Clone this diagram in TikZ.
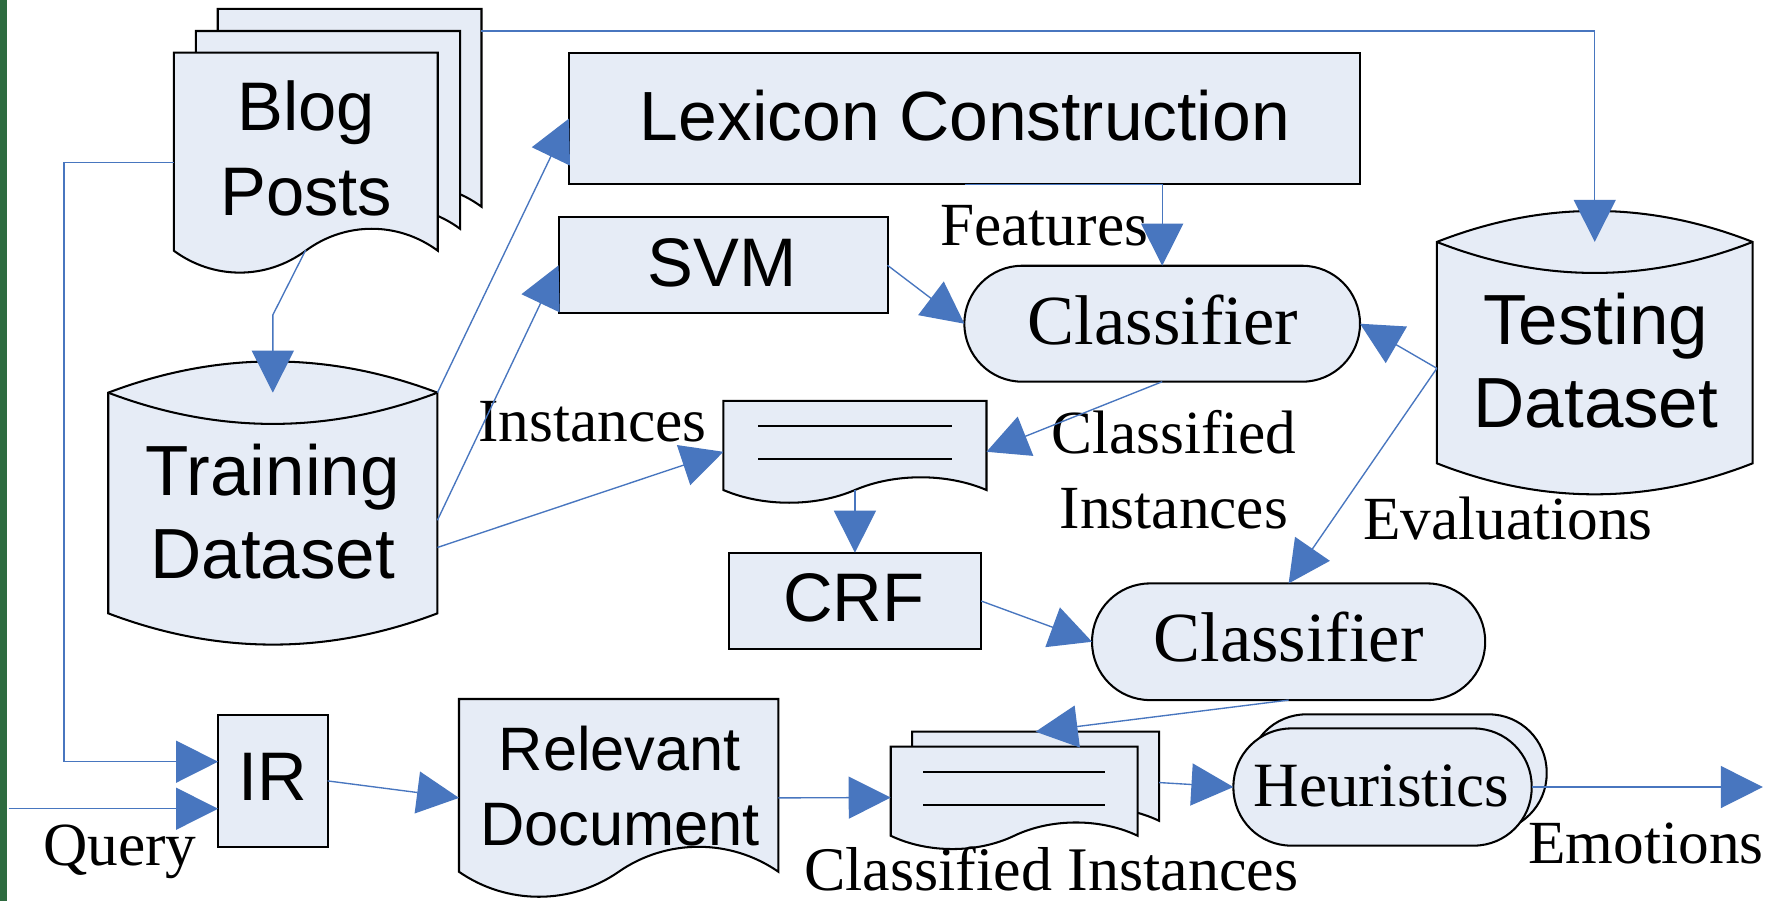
\documentclass[tikz,border=0pt]{standalone}
\usepackage{fontspec}
\setmainfont{Liberation Serif}
\setsansfont{Liberation Sans}
\usetikzlibrary{arrows.meta,calc}

\definecolor{shapefill}{RGB}{230,236,246}
\definecolor{linkblue}{RGB}{72,118,191}
\definecolor{edgegreen}{RGB}{46,107,63}

\tikzset{
  shp/.style={draw=black, fill=shapefill, line width=1.8pt, line join=miter},
  rimline/.style={draw=black, line width=1.8pt},
  box/.style={shp, rectangle, inner sep=0pt, outer sep=0pt},
  pill/.style={box, rounded corners=51pt},
  hook/.style={rectangle, draw=none, inner sep=0pt, outer sep=0pt},
  link/.style={draw=linkblue, line width=1.2pt, -{Triangle[length=37pt,width=37pt]}},
  sanstext/.style={font=\sffamily\fontsize{60.5}{60.5}\selectfont, inner sep=0pt, outer sep=0pt, anchor=base},
  bigsans/.style={sanstext, font=\sffamily\fontsize{62.5}{62.5}\selectfont},
  serftext/.style={font=\rmfamily\fontsize{54}{54}\selectfont, inner sep=0pt, outer sep=0pt, anchor=base west},
}

% page with a wavy lower edge: left, top, right, rim y, wave height
\newcommand\drawdoc[5]{%
  \pgfmathsetmacro\shW{#3-#1}%
  \pgfmathsetmacro\shM{(#1+#3)/2}%
  \pgfmathsetmacro\shA{#3-0.15*\shW}%
  \pgfmathsetmacro\shB{#3-0.35*\shW}%
  \pgfmathsetmacro\shC{#1+0.35*\shW}%
  \pgfmathsetmacro\shD{#1+0.15*\shW}%
  \pgfmathsetmacro\shU{#4-1.333*#5}%
  \pgfmathsetmacro\shL{#4+1.333*#5}%
  \path[shp] (#1,#2) -- (#3,#2) -- (#3,#4)
    .. controls (\shA,\shU) and (\shB,\shU) .. (\shM,#4)
    .. controls (\shC,\shL) and (\shD,\shL) .. (#1,#4) -- cycle;
}

% data store drum: left, right, upper rim y, lower rim y, rim bulge
\newcommand\drawdrum[5]{%
  \pgfmathsetmacro\shW{#2-#1}%
  \pgfmathsetmacro\shA{#1+\shW/3}%
  \pgfmathsetmacro\shB{#2-\shW/3}%
  \pgfmathsetmacro\shU{#3-1.333*#5}%
  \pgfmathsetmacro\shL{#3+1.333*#5}%
  \pgfmathsetmacro\shD{#4+1.333*#5}%
  \path[shp] (#1,#3) .. controls (\shA,\shU) and (\shB,\shU) .. (#2,#3)
    -- (#2,#4) .. controls (\shB,\shD) and (\shA,\shD) .. (#1,#4) -- cycle;
  \draw[rimline] (#1,#3) .. controls (\shA,\shL) and (\shB,\shL) .. (#2,#3);
}

\begin{document}
\begin{tikzpicture}[x=1pt, y=-1pt]
\useasboundingbox (0,0) rectangle (1568,793);
\fill[white] (0,0) rectangle (1568,793);
\fill[edgegreen] (0,0) rectangle (6,793);

% ---------- shapes ----------
% blog posts: three stacked pages
\drawdoc{191.7}{7.9}{423.9}{182}{19.3}
\drawdoc{172.5}{27.3}{405}{201.4}{19.3}
\drawdoc{153}{46.4}{385.4}{220.7}{19.3}
\node[hook, minimum width=232.4pt, minimum height=193.6pt] (blog) at (269.2,143.2) {};

% data stores
\drawdrum{95.3}{385.1}{345.7}{540}{27.5}
\node[hook, minimum width=289.8pt, minimum height=249.4pt] (train) at (240.2,443.2) {};
\drawdrum{1265}{1543}{213}{407.9}{27.3}
\node[hook, minimum width=278pt, minimum height=248.7pt] (test) at (1404,309.95) {};

% process boxes
\node[box, minimum width=696.4pt, minimum height=115.9pt] (lex) at (849.2,104.35) {};
\node[box, minimum width=289.6pt, minimum height=84.6pt] (svm) at (636.6,233.6) {};
\node[box, minimum width=222.4pt, minimum height=85.1pt] (crf) at (752.7,529.15) {};
\node[box, minimum width=96.5pt, minimum height=116pt] (ir) at (240.2,687.5) {};

% classifiers
\node[pill, minimum width=348.3pt, minimum height=102.1pt] (cls1) at (1023.2,285) {};
\node[pill, minimum width=346.1pt, minimum height=102.7pt] (cls2) at (1134.5,565) {};

% heuristics (stacked)
\node[pill, minimum width=262.6pt, minimum height=103.2pt] (heurback) at (1230.4,680.5) {};
\node[pill, minimum width=262.6pt, minimum height=103.2pt] (heur) at (1217.2,692.9) {};

% instances page
\drawdoc{636.9}{353}{868.5}{431.4}{11.2}
\node[hook, minimum width=231.6pt, minimum height=89.5pt] (inst) at (752.7,397.75) {};
\draw[rimline] (667.5,374.8) -- (837.8,374.8);
\draw[rimline] (667.5,404.1) -- (837.8,404.1);

% relevant document
\drawdoc{404.1}{615.4}{685.3}{767.5}{22}
\node[hook, minimum width=281.2pt, minimum height=174.1pt] (rel) at (544.7,702.45) {};

% classified instances: two stacked pages
\drawdoc{803}{644.2}{1020.4}{722.6}{11.7}
\node[hook, minimum width=217.4pt, minimum height=89.5pt] (cdocback) at (911.7,688.95) {};
\drawdoc{784.2}{657.4}{1001.6}{735.8}{11.7}
\node[hook, minimum width=217.4pt, minimum height=89.5pt] (cdoc) at (892.9,702.15) {};
\draw[rimline] (813,679.4) -- (972.9,679.4);
\draw[rimline] (813,708.8) -- (972.9,708.8);

% ---------- texts inside shapes ----------
\node[sanstext] (blogA) at (269.6,115.3) {Blog};
\node[sanstext] (blogB) at (269.6,189.3) {Posts};
\node[bigsans] (trainA) at (240.2,435.8) {Training};
\node[bigsans] (trainB) at (240.2,509.2) {Dataset};
\node[bigsans] (testA) at (1405,302.9) {Testing};
\node[bigsans] (testB) at (1405,376.5) {Dataset};
\node[sanstext, font=\sffamily\fontsize{61.3}{61.3}\selectfont] (lexT) at (849.5,123.3) {Lexicon Construction};
\node[sanstext] (svmT) at (636,251.8) {SVM};
\node[sanstext] (crfT) at (751.7,547.3) {CRF};
\node[sanstext] (irT) at (240.3,705) {IR};
\node[sanstext, font=\sffamily\fontsize{54}{54}\selectfont] (relA) at (545.7,678.5) {Relevant};
\node[sanstext, font=\sffamily\fontsize{54}{54}\selectfont] (relB) at (545.7,744) {Document};
\node[anchor=base, inner sep=0pt, font=\rmfamily\fontsize{62}{62}\selectfont] (cls1T) at (1023.7,303.7) {Classifier};
\node[anchor=base, inner sep=0pt, font=\rmfamily\fontsize{62}{62}\selectfont] (cls2T) at (1134.5,582.6) {Classifier};
\node[anchor=base, inner sep=0pt, font=\rmfamily\fontsize{55.5}{55.5}\selectfont] (heurT) at (1216.2,710.2) {Heuristics};

% ---------- connector labels ----------
\node[serftext] (featL) at (827.9,215.7) {Features};
\node[serftext] (instL) at (421.1,388.9) {Instances};
\node[serftext, anchor=base] (clsA) at (1033.5,399) {Classified};
\node[serftext, anchor=base] (clsB) at (1033.5,465) {Instances};
\node[serftext] (evalL) at (1200,475.4) {Evaluations};
\node[serftext] (queryL) at (37.9,762) {Query};
\node[serftext, font=\rmfamily\fontsize{54.6}{54.6}\selectfont] (cinstL) at (708,784) {Classified Instances};
\node[serftext] (emoL) at (1345.6,760) {Emotions};

% ---------- connectors ----------
\coordinate (qin) at (7.6,712);
\coordinate (emo) at (1552,692.9);

\draw[link] (blog.west) -- ++(-96.7,0) |- ($(ir.west)+(0,-16.9)$);
\draw[link] (qin) -- ($(ir.west)+(0,24.5)$);
\draw[link] ($(blog.south)+(0,-20)$) -- ($(train.north)+(0,-41.2)$) -- ($(train.north)+(0,27.2)$);
\draw[link] ($(blog.north east)+(38.5,-19.1)$) -| ($(test.north)+(0,27.3)$);
\draw[link] ($(train.north east)+(0,27.2)$) -- (lex.west);
\draw[link] ($(train.east)+(0,14.8)$) -- (svm.west);
\draw[link] ($(train.east)+(0,38.8)$) -- (inst.west);
\draw[link] (lex.south) -- (lex.south -| cls1.north) -- (cls1.north);
\draw[link] (svm.east) -- (cls1.west);
\draw[link] ($(test.west)+(0,14.3)$) -- (cls1.east);
\draw[link] (cls1.south) -- (inst.east);
\draw[link] ($(inst.south)+(0,-11.2)$) -- (crf.north);
\draw[link] (crf.east) -- (cls2.west);
\draw[link] ($(test.west)+(0,14.3)$) -- (cls2.north);
\draw[link] (cls2.south) -- (cdocback.north);
\draw[link] (ir.east) -- (rel.west);
\draw[link] (rel.east) -- (cdoc.west);
\draw[link] (cdocback.east) -- (heur.west);
\draw[link] (heur.east) -- (emo);
\end{tikzpicture}
\end{document}
